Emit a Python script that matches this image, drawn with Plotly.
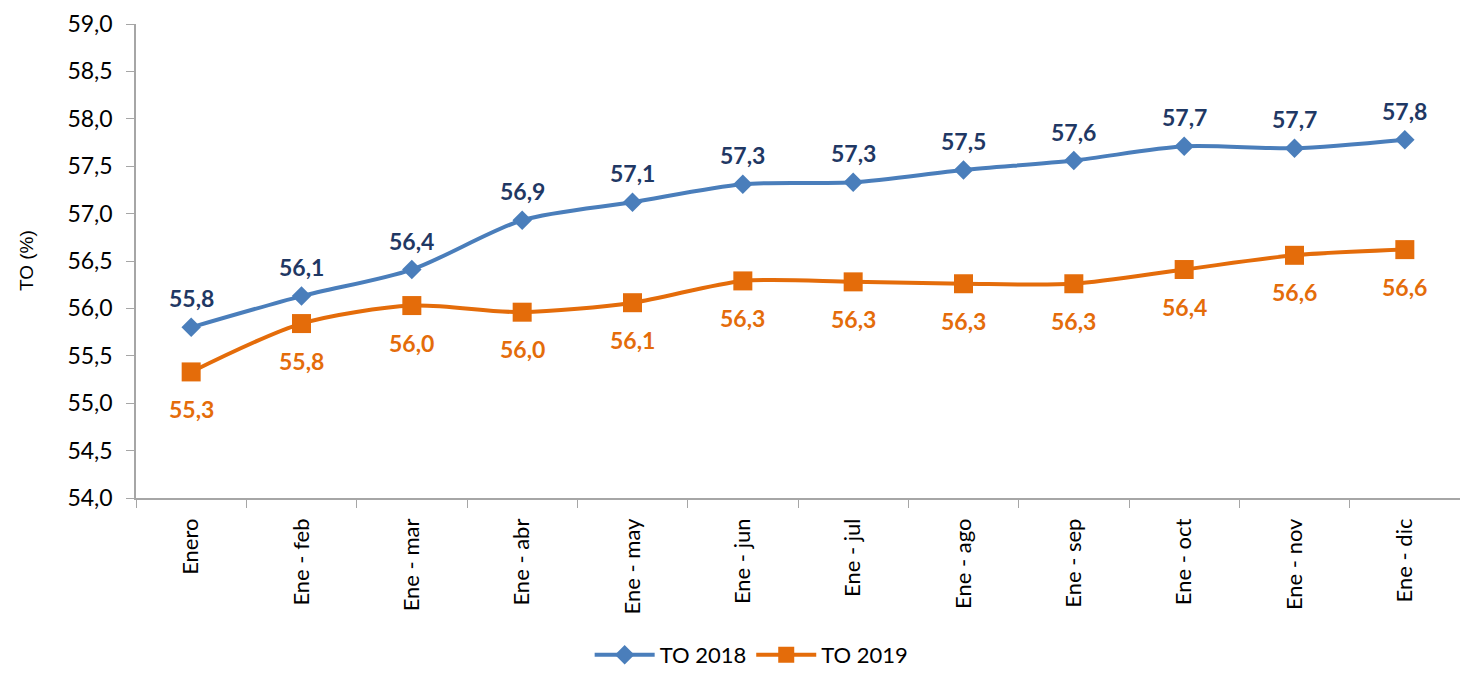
import plotly.graph_objects as go

categories = ["Enero", "Ene - feb", "Ene - mar", "Ene - abr", "Ene - may", "Ene - jun",
              "Ene - jul", "Ene - ago", "Ene - sep", "Ene - oct", "Ene - nov", "Ene - dic"]
to_2018 = [55.80, 56.13, 56.41, 56.93, 57.12, 57.31, 57.33, 57.46, 57.56, 57.71, 57.69, 57.78]
to_2019 = [55.33, 55.84, 56.03, 55.96, 56.06, 56.29, 56.28, 56.26, 56.26, 56.41, 56.56, 56.62]
y_ticks = [54.0, 54.5, 55.0, 55.5, 56.0, 56.5, 57.0, 57.5, 58.0, 58.5, 59.0]


def fmt(v):
    return f"{v:.1f}".replace(".", ",")


FONT = "Lato"
BLUE = "#4A7EBB"
NAVY = "#1F3864"
ORANGE = "#E46C0A"
AXIS = "#A6A6A6"

fig = go.Figure()
fig.add_trace(go.Scatter(
    x=categories, y=to_2018, name="TO 2018", mode="lines+markers",
    line=dict(color=BLUE, width=4, shape="spline", smoothing=0.8),
    marker=dict(symbol="diamond", size=15, color=BLUE),
))
fig.add_trace(go.Scatter(
    x=categories, y=to_2019, name="TO 2019", mode="lines+markers",
    line=dict(color=ORANGE, width=4, shape="spline", smoothing=0.8),
    marker=dict(symbol="square", size=19, color=ORANGE),
))

annotations = []
for c, v in zip(categories, to_2018):
    annotations.append(dict(x=c, y=v, xref="x", yref="y", text=fmt(v), showarrow=False,
                            xanchor="center", yanchor="middle", yshift=29,
                            font=dict(family=FONT, size=23, color=NAVY, weight="bold")))
for c, v in zip(categories, to_2019):
    annotations.append(dict(x=c, y=v, xref="x", yref="y", text=fmt(v), showarrow=False,
                            xanchor="center", yanchor="middle", yshift=-37,
                            font=dict(family=FONT, size=23, color=ORANGE, weight="bold")))
annotations.append(dict(text="TO (%)", xref="paper", yref="paper", x=-0.083, y=0.5,
                        xanchor="center", yanchor="middle", textangle=-90, showarrow=False,
                        font=dict(family="Liberation Sans", size=19, color="black")))

fig.update_layout(
    margin=dict(l=128, r=0, t=16, b=173, autoexpand=False),
    paper_bgcolor="white", plot_bgcolor="white",
    font=dict(family=FONT, size=22, color="black"),
    showlegend=True,
    legend=dict(orientation="h", x=0.465, xanchor="center", y=-0.331, yanchor="middle",
                font=dict(family=FONT, size=22, color="black"), itemwidth=60,
                traceorder="normal"),
    annotations=annotations,
)
fig.update_xaxes(
    type="category", range=[-0.5, 11.5], tickangle=-90, automargin=False,
    showline=True, linecolor=AXIS, linewidth=1.5, showgrid=False, zeroline=False,
    ticks="outside", tickson="boundaries", ticklen=8, tickcolor=AXIS,
    ticklabelstandoff=10, ticklabeloverflow="allow",
    tickfont=dict(family=FONT, size=22, color="black"),
)
fig.update_yaxes(
    range=[54.0, 59.0], tickvals=y_ticks, ticktext=[fmt(v) for v in y_ticks], automargin=False,
    showline=True, linecolor=AXIS, linewidth=1.5, showgrid=False, zeroline=False,
    ticks="outside", ticklen=8, tickcolor=AXIS, ticklabelstandoff=9,
    ticklabeloverflow="allow",
    tickfont=dict(family=FONT, size=23, color="black"),
)

fig.write_html("out.html")
